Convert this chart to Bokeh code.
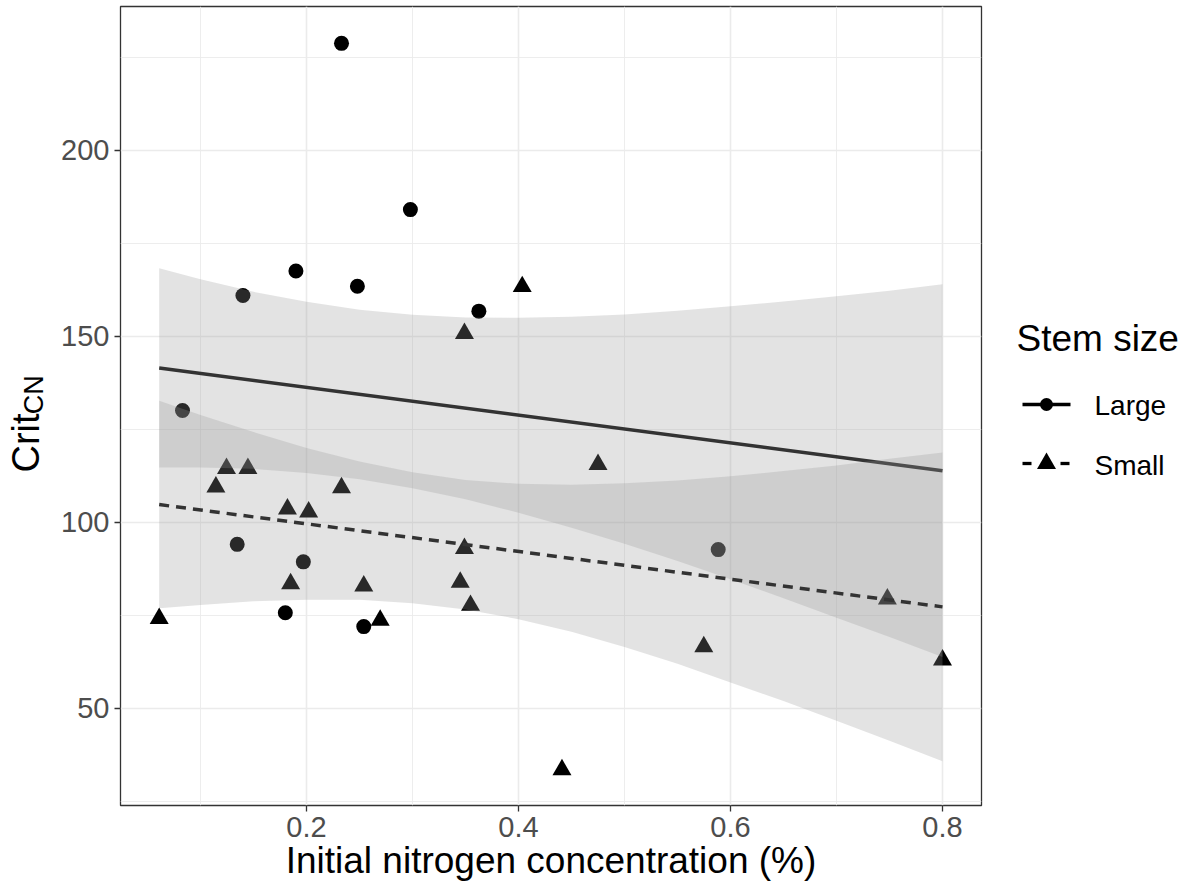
from bokeh.plotting import figure
from bokeh.models import Range1d, FixedTicker, Label, LinearAxis
from bokeh.layouts import row
from bokeh.embed import file_html
from bokeh.resources import INLINE

# ---------------- data ----------------
stem_sizes = ["Large", "Small"]

large_x = [0.233, 0.298, 0.190, 0.248, 0.140, 0.083, 0.1346, 0.197, 0.180, 0.254, 0.3626, 0.5884]
large_y = [228.8, 184.1, 167.6, 163.5, 161.0, 130.1, 94.1, 89.4, 75.7, 72.0, 156.8, 92.7]

small_x = [0.061, 0.1145, 0.1245, 0.1447, 0.182, 0.185, 0.202, 0.233, 0.254, 0.2695,
           0.345, 0.349, 0.349, 0.3547, 0.4035, 0.441, 0.475, 0.5748, 0.748, 0.800]
small_y = [74.2, 109.5, 114.5, 114.5, 103.6, 83.5, 102.8, 109.3, 82.9, 73.7,
           83.9, 150.8, 93.0, 77.7, 163.4, 33.5, 115.6, 66.6, 79.4, 63.0]

# linear fits (geom_smooth, method = lm) read at the ends of the x range
fit_x = [0.061, 0.800]
large_fit = [141.5, 113.9]
small_fit = [104.8, 77.3]

# confidence bands read along x
band_x = [0.061, 0.10, 0.15, 0.20, 0.25, 0.30, 0.35, 0.40, 0.45, 0.50, 0.55, 0.60, 0.65, 0.70, 0.75, 0.80]
large_lo = [114.8, 114.8, 114.4, 113.3, 111.6, 109.2, 106.2, 102.6, 98.6, 94.3, 89.6, 84.7, 79.6, 74.4, 69.2, 63.8]
large_hi = [168.3, 165.4, 162.0, 159.3, 157.2, 155.8, 155.1, 155.0, 155.3, 155.9, 156.9, 158.1, 159.4, 160.8, 162.3, 164.0]
small_lo = [76.9, 77.8, 78.8, 79.2, 79.2, 78.3, 76.6, 74.0, 70.6, 66.5, 62.0, 57.0, 52.0, 46.7, 41.3, 35.8]
small_hi = [132.7, 128.9, 124.3, 120.0, 116.4, 113.5, 111.4, 110.4, 110.1, 110.5, 111.3, 112.4, 113.8, 115.3, 117.1, 118.8]

x_ticks = [0.2, 0.4, 0.6, 0.8]
x_minor = [0.1, 0.3, 0.5, 0.7]
y_ticks = [50, 100, 150, 200]
y_minor = [25, 75, 125, 175, 225]

x_title = "Initial nitrogen concentration (%)"
y_title_main = "Crit"
y_title_sub = "CN"
legend_title = "Stem size"

FONT = "Liberation Sans"
H = 887               # page height
TOP, BOTTOM = 6, 82   # borders above / below the panel
LEG_W = 205           # strip holding the legend
NBSP = "\u00a0"


def py(v):
    """page pixel row -> coordinate of the legend strip (y up)"""
    return H - v


# ---------------- main panel ----------------
p = figure(width=1190 - LEG_W, height=H,
           x_range=Range1d(0.0245, 0.8368), y_range=Range1d(23.9, 238.7),
           output_backend="svg", toolbar_location=None,
           min_border_left=120, min_border_right=4,
           min_border_top=TOP, min_border_bottom=BOTTOM)
p.background_fill_color = "white"
p.border_fill_color = "white"
p.outline_line_color = "#333333"
p.outline_line_width = 1.3

p.xaxis.ticker = FixedTicker(ticks=x_ticks, minor_ticks=x_minor)
p.yaxis.ticker = FixedTicker(ticks=y_ticks, minor_ticks=y_minor)

for g in (p.xgrid[0], p.ygrid[0]):
    g.grid_line_color = "#EBEBEB"
    g.grid_line_width = 1.6
    g.minor_grid_line_color = "#EBEBEB"
    g.minor_grid_line_width = 0.9

for ax in (p.xaxis[0], p.yaxis[0]):
    ax.axis_line_color = None
    ax.major_tick_line_color = "#333333"
    ax.major_tick_line_width = 1.3
    ax.major_tick_out = 6
    ax.major_tick_in = 0
    ax.minor_tick_line_color = None
    ax.major_label_text_font = FONT
    ax.major_label_text_font_size = "29px"
    ax.major_label_text_color = "#4D4D4D"
    ax.major_label_standoff = 5

# x title
xa = p.xaxis[0]
xa.axis_label = x_title
xa.axis_label_text_font = FONT
xa.axis_label_text_font_size = "37px"
xa.axis_label_text_font_style = "normal"
xa.axis_label_text_color = "black"
xa.axis_label_standoff = 0

# y title: subscript "CN" on the inner axis, "Crit" on an outer, tick-less axis
ya = p.yaxis[0]
ya.axis_label = NBSP * 3 + y_title_sub
ya.axis_label_text_font = FONT
ya.axis_label_text_font_size = "27px"
ya.axis_label_text_font_style = "normal"
ya.axis_label_text_color = "black"
ya.axis_label_standoff = 9

yb = LinearAxis(ticker=FixedTicker(ticks=[]), axis_label=y_title_main + NBSP * 7)
yb.axis_line_color = None
yb.major_tick_line_color = None
yb.minor_tick_line_color = None
yb.major_tick_out = 0
yb.major_tick_in = 0
yb.minor_tick_out = 0
yb.major_label_standoff = 0
yb.axis_label_text_font = FONT
yb.axis_label_text_font_size = "38px"
yb.axis_label_text_font_style = "normal"
yb.axis_label_text_color = "black"
yb.axis_label_standoff = -30
p.add_layout(yb, "left")

# points (drawn first, bands are laid over them as in ggplot)
p.scatter(large_x, large_y, marker="circle", size=15, fill_color="black", line_color=None)
p.scatter(small_x, small_y, marker="triangle", size=19, fill_color="black", line_color=None)

BAND = "#999999"
BAND_ALPHA = 0.27
p.varea(x=band_x, y1=large_lo, y2=large_hi, fill_color=BAND, fill_alpha=BAND_ALPHA)
p.line(fit_x, large_fit, line_color="#333333", line_width=3.5)
p.varea(x=band_x, y1=small_lo, y2=small_hi, fill_color=BAND, fill_alpha=BAND_ALPHA)
p.line(fit_x, small_fit, line_color="#333333", line_width=3.5, line_dash="10 7")

# ---------------- legend strip (page pixel coordinates) ----------------
lg = figure(width=LEG_W, height=H, x_range=Range1d(1190 - LEG_W, 1190),
            y_range=Range1d(py(H - BOTTOM), py(TOP)),
            output_backend="svg", toolbar_location=None,
            x_axis_location=None, y_axis_location=None,
            min_border_left=0, min_border_right=0,
            min_border_top=TOP, min_border_bottom=BOTTOM)
lg.grid.visible = False
lg.outline_line_color = None
lg.background_fill_color = "white"
lg.border_fill_color = "white"


def label(fig, x, y, text, size):
    fig.add_layout(Label(x=x, y=y, text=text, text_align="left", text_baseline="alphabetic",
                         text_font=FONT, text_font_size=f"{size}px", text_color="black"))


key_y = [404, 463]
label(lg, 1016, py(338), legend_title, 37)
label(lg, 1094, py(405), stem_sizes[0], 28)
label(lg, 1094, py(465), stem_sizes[1], 28)

# Large key: solid line + circle
lg.segment(x0=[1022], y0=[py(key_y[0])], x1=[1070], y1=[py(key_y[0])],
           line_color="black", line_width=3.3)
lg.scatter([1046], [py(key_y[0])], marker="circle", size=13, fill_color="black", line_color=None)
# Small key: dashed line + triangle
lg.segment(x0=[1022, 1060], y0=[py(key_y[1])] * 2, x1=[1031, 1069], y1=[py(key_y[1])] * 2,
           line_color="black", line_width=3.3)
lg.scatter([1046], [py(key_y[1])], marker="triangle", size=19, fill_color="black", line_color=None)

layout = row(p, lg)
open("out.html", "w").write(file_html(layout, INLINE))
